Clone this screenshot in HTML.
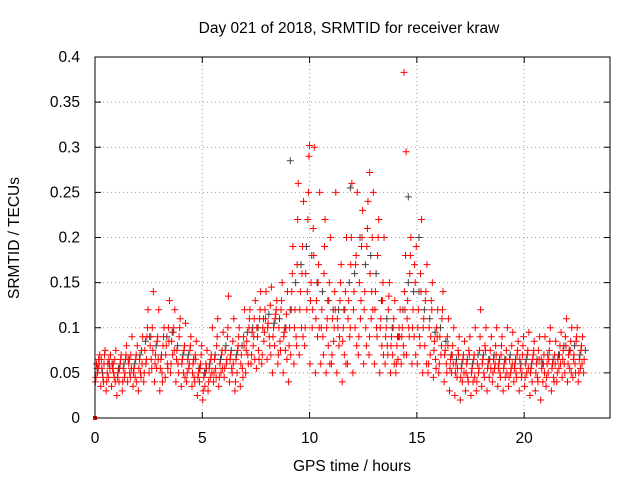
<!DOCTYPE html>
<html><head><meta charset="utf-8"><style>
body{margin:0;background:#fff;}
svg{display:block;font-family:"Liberation Sans",sans-serif;}
</style></head><body>
<svg id="chart" width="640" height="480" viewBox="0 0 640 480">
<text x="349" y="33" font-size="15.5" text-anchor="middle">Day 021 of 2018, SRMTID for receiver kraw</text>
<text x="0" y="0" font-size="15.5" text-anchor="middle" transform="translate(19,238) rotate(-90)">SRMTID / TECUs</text>
<text x="352" y="471" font-size="15.5" text-anchor="middle">GPS time / hours</text>
<g id="grid"></g><g id="ticks"></g><g id="marks"></g>
<rect x="95" y="57" width="515" height="361" fill="none" stroke="#000" stroke-width="1"/>
</svg>
<script>
const xTicks=[0,5,10,15,20];
const yTicks=[0,0.05,0.1,0.15,0.2,0.25,0.3,0.35,0.4];
const yTickLabels=["0","0.05","0.1","0.15","0.2","0.25","0.3","0.35","0.4"];
const times=[0,0.25,0.5,0.75,1,1.25,1.5,1.75,2,2.25,2.5,2.75,3,3.25,3.5,3.75,4,4.25,4.5,4.75,5,5.25,5.5,5.75,6,6.25,6.5,6.75,7,7.25,7.5,7.75,8,8.25,8.5,8.75,9,9.25,9.5,9.75,10,10.25,10.5,10.75,11,11.25,11.5,11.75,12,12.25,12.5,12.75,13,13.25,13.5,13.75,14,14.25,14.5,14.75,15,15.25,15.5,15.75,16,16.25,16.5,16.75,17,17.25,17.5,17.75,18,18.25,18.5,18.75,19,19.25,19.5,19.75,20,20.25,20.5,20.75,21,21.25,21.5,21.75,22,22.25,22.5,22.75];
const redLow=[.04,.035,.03,.035,.025,.03,.04,.035,.03,.04,.05,.04,.03,.045,.05,.04,.035,.04,.035,.025,.02,.03,.04,.035,.045,.04,.03,.035,.05,.06,.055,.06,.065,.05,.06,.05,.04,.06,.07,.08,.06,.05,.06,.05,.06,.05,.04,.06,.05,.07,.06,.07,.06,.05,.06,.05,.05,.06,.07,.06,.06,.05,.05,.045,.05,.04,.03,.025,.02,.03,.025,.03,.035,.03,.04,.035,.03,.035,.04,.03,.035,.025,.03,.02,.035,.03,.04,.045,.04,.045,.04,.05];
const redMidLow=[.05,.045,.045,.05,.04,.045,.05,.045,.05,.06,.065,.055,.05,.06,.07,.06,.05,.055,.045,.04,.035,.045,.055,.05,.06,.055,.05,.055,.07,.08,.075,.085,.09,.08,.085,.075,.07,.09,.1,.12,.1,.09,.09,.08,.085,.08,.07,.09,.1,.11,.1,.11,.1,.08,.08,.07,.065,.08,.1,.09,.09,.08,.07,.065,.07,.06,.05,.045,.04,.045,.04,.05,.05,.045,.055,.05,.045,.05,.05,.045,.05,.04,.045,.04,.05,.045,.055,.06,.055,.06,.055,.06];
const redMid=[.06,.055,.05,.055,.05,.055,.06,.055,.065,.075,.08,.07,.065,.08,.085,.075,.065,.065,.06,.05,.045,.055,.065,.06,.075,.07,.065,.07,.085,.095,.09,.1,.105,.1,.1,.095,.1,.12,.14,.16,.15,.13,.12,.11,.11,.1,.1,.13,.14,.15,.14,.16,.14,.11,.1,.09,.08,.1,.13,.12,.12,.11,.1,.085,.09,.075,.065,.06,.055,.06,.055,.06,.065,.06,.065,.06,.06,.065,.06,.055,.06,.055,.06,.055,.06,.06,.065,.075,.07,.07,.065,.07];
const redMidHigh=[.065,.06,.06,.065,.06,.065,.07,.07,.075,.09,.1,.09,.08,.1,.1,.09,.08,.075,.07,.06,.06,.07,.08,.075,.09,.085,.08,.09,.1,.11,.11,.12,.125,.115,.12,.115,.14,.17,.19,.22,.21,.17,.16,.15,.14,.13,.14,.17,.18,.19,.19,.2,.18,.15,.12,.11,.1,.14,.16,.15,.16,.14,.13,.1,.11,.09,.08,.075,.07,.075,.07,.075,.08,.075,.08,.07,.075,.08,.07,.07,.075,.07,.075,.07,.075,.07,.08,.09,.085,.085,.08,.08];
const redHigh=[.07,.075,.07,.075,.07,.08,.09,.08,.09,.12,.14,.12,.1,.13,.12,.11,.105,.09,.085,.08,.075,.1,.11,.095,.135,.11,.1,.12,.12,.13,.14,.14,.145,.13,.15,.14,.19,.26,.24,.29,.3,.25,.22,.2,.25,.17,.2,.26,.25,.23,.24,.25,.22,.2,.15,.13,.12,.18,.2,.19,.22,.17,.15,.12,.14,.11,.1,.09,.085,.09,.1,.12,.1,.09,.1,.09,.1,.095,.085,.09,.095,.085,.09,.09,.1,.085,.095,.11,.1,.1,.09,.09];
const redExtraA=[.045,.065,.04,.06,.045,.04,.065,.05,.055,.05,.09,.06,.055,.07,.06,.065,.06,.05,.05,.045,.03,.04,.05,.045,.055,.065,.04,.06,.075,.07,.1,.07,.1,.09,.07,.09,.08,.1,.12,.1,.13,.11,.1,.1,.07,.11,.085,.11,.12,.09,.12,.09,.12,.1,.09,.08,.06,.09,.11,.1,.1,.1,.06,.075,.06,.07,.055,.05,.045,.05,.05,.04,.06,.055,.05,.055,.055,.045,.055,.065,.045,.05,.05,.065,.045,.055,.05,.065,.06,.065,.05,.065];
const redExtraB=[.055,.04,.065,.045,.055,.05,.045,.065,.045,.065,.055,.085,.04,.055,.095,.05,.075,.06,.04,.055,.05,.065,.045,.07,.065,.05,.075,.045,.06,.09,.065,.095,.08,.11,.075,.1,.12,.08,.16,.14,.12,.15,.07,.13,.1,.09,.12,.1,.17,.13,.08,.14,.09,.13,.07,.1,.09,.07,.09,.17,.08,.13,.09,.055,.08,.05,.07,.055,.065,.04,.065,.055,.045,.065,.06,.045,.065,.055,.045,.05,.07,.065,.04,.06,.065,.04,.07,.05,.075,.05,.075,.055];
const redExtraC=[.06,.07,.055,.04,.065,.07,.055,.04,.06,.1,.075,.065,.09,.085,.075,.1,.045,.08,.065,.07,.055,.05,.09,.055,.1,.06,.09,.08,.11,.065,.12,.11,.07,.12,.13,.065,.16,.22,.09,.25,.18,.1,.19,.06,.12,.15,.06,.2,.08,.2,.21,.12,.2,.07,.135,.06,.09,.12,.18,.07,.14,.06,.12,.09,.12,.08,.06,.07,.05,.07,.045,.09,.075,.055,.07,.08,.05,.06,.075,.08,.055,.075,.065,.05,.085,.06,.06,.08,.05,.09,.06,.08];
const greyA=[.055,.05,.06,.06,.055,.06,.065,.06,.07,.085,.09,.08,.07,.09,.095,.08,.07,.07,.065,.055,.05,.06,.07,.065,.08,.075,.07,.08,.095,.1,.1,.11,.115,.105,.11,.1,.12,.15,.17,.19,.18,.15,.14,.13,.12,.12,.12,.15,.16,.2,.17,.18,.16,.13,.11,.1,.09,.12,.15,.14,.14,.12,.11,.095,.1,.085,.07,.065,.06,.065,.06,.07,.07,.065,.07,.065,.065,.07,.065,.06,.065,.06,.065,.06,.07,.065,.07,.08,.075,.08,.07,.075];
const redOutT=[14.4,14.5,10.0,12.8];
const redOutV=[0.383,0.295,0.302,0.272];
const greyOutT=[14.6,9.1,11.9,15.1];
const greyOutV=[0.245,0.285,0.255,0.2];
const redSeries=[redLow,redMidLow,redMid,redMidHigh,redHigh,redExtraA,redExtraB,redExtraC];
const seriesShift=[0.02,0.12,0.07,0.17,0.22,0.045,0.145,0.195];

const X0=95,X1=610,Y0=418,Y1=57,XMAX=24,YMAX=0.4;
const sx=t=>X0+t/XMAX*(X1-X0);
const sy=v=>Y0-v/YMAX*(Y0-Y1);
const NS="http://www.w3.org/2000/svg";
const grid=document.getElementById('grid'),ticks=document.getElementById('ticks'),marks=document.getElementById('marks');
function mk(tag,attrs,parent){const e=document.createElementNS(NS,tag);for(const k in attrs)e.setAttribute(k,attrs[k]);parent.appendChild(e);return e;}
yTicks.forEach((v,i)=>{
  const y=sy(v);
  if(i>0&&i<yTicks.length-1){const g=mk('line',{x1:X0,x2:X1,y1:y,y2:y,stroke:'#a0a0a0','stroke-dasharray':'1,3'},grid);
  
  }
  const t=mk('line',{x1:X0,x2:X0+6,y1:y,y2:y,stroke:'#000'},ticks);
  
  
  const t2=mk('line',{x1:X1-6,x2:X1,y1:y,y2:y,stroke:'#000'},ticks);
  
  
  const l=mk('text',{x:X0-15,y:y+5,'font-size':15.5,'text-anchor':'end'},ticks);
  l.textContent=yTickLabels[i];
  
  
});
xTicks.forEach(v=>{
  const x=sx(v);
  if(v>0){const g=mk('line',{x1:x,x2:x,y1:Y1,y2:Y0,stroke:'#a0a0a0','stroke-dasharray':'1,3'},grid);
  
  }
  const t=mk('line',{x1:x,x2:x,y1:Y0,y2:Y0-6,stroke:'#000'},ticks);
  
  
  const t2=mk('line',{x1:x,x2:x,y1:Y1,y2:Y1+6,stroke:'#000'},ticks);
  
  
  const l=mk('text',{x:x,y:Y0+25,'font-size':15.5,'text-anchor':'middle'},ticks);
  l.textContent=String(v);
  
  
});
function plus(t,v,color,name){
  const x=sx(t),y=sy(v);
  const p=mk('path',{d:`M${x-3.5},${y}H${x+3.5}M${x},${y-3.5}V${y+3.5}`,stroke:color,'stroke-width':1,fill:'none'},marks);
  
  
}
times.forEach((t,i)=>plus(t+0.1,greyA[i],'#404040','grey-point'));
greyOutT.forEach((t,i)=>plus(t,greyOutV[i],'#404040','grey-point'));
redSeries.forEach((s,k)=>times.forEach((t,i)=>{if(t+seriesShift[k]<=22.8)plus(t+seriesShift[k],s[i],'#ff0000','red-point');}));
redOutT.forEach((t,i)=>plus(t,redOutV[i],'#ff0000','red-point'));
const sq=mk('rect',{x:sx(0)-2,y:sy(0)-2,width:4,height:4,fill:'#ff0000'},marks);


</script>
</body></html>
